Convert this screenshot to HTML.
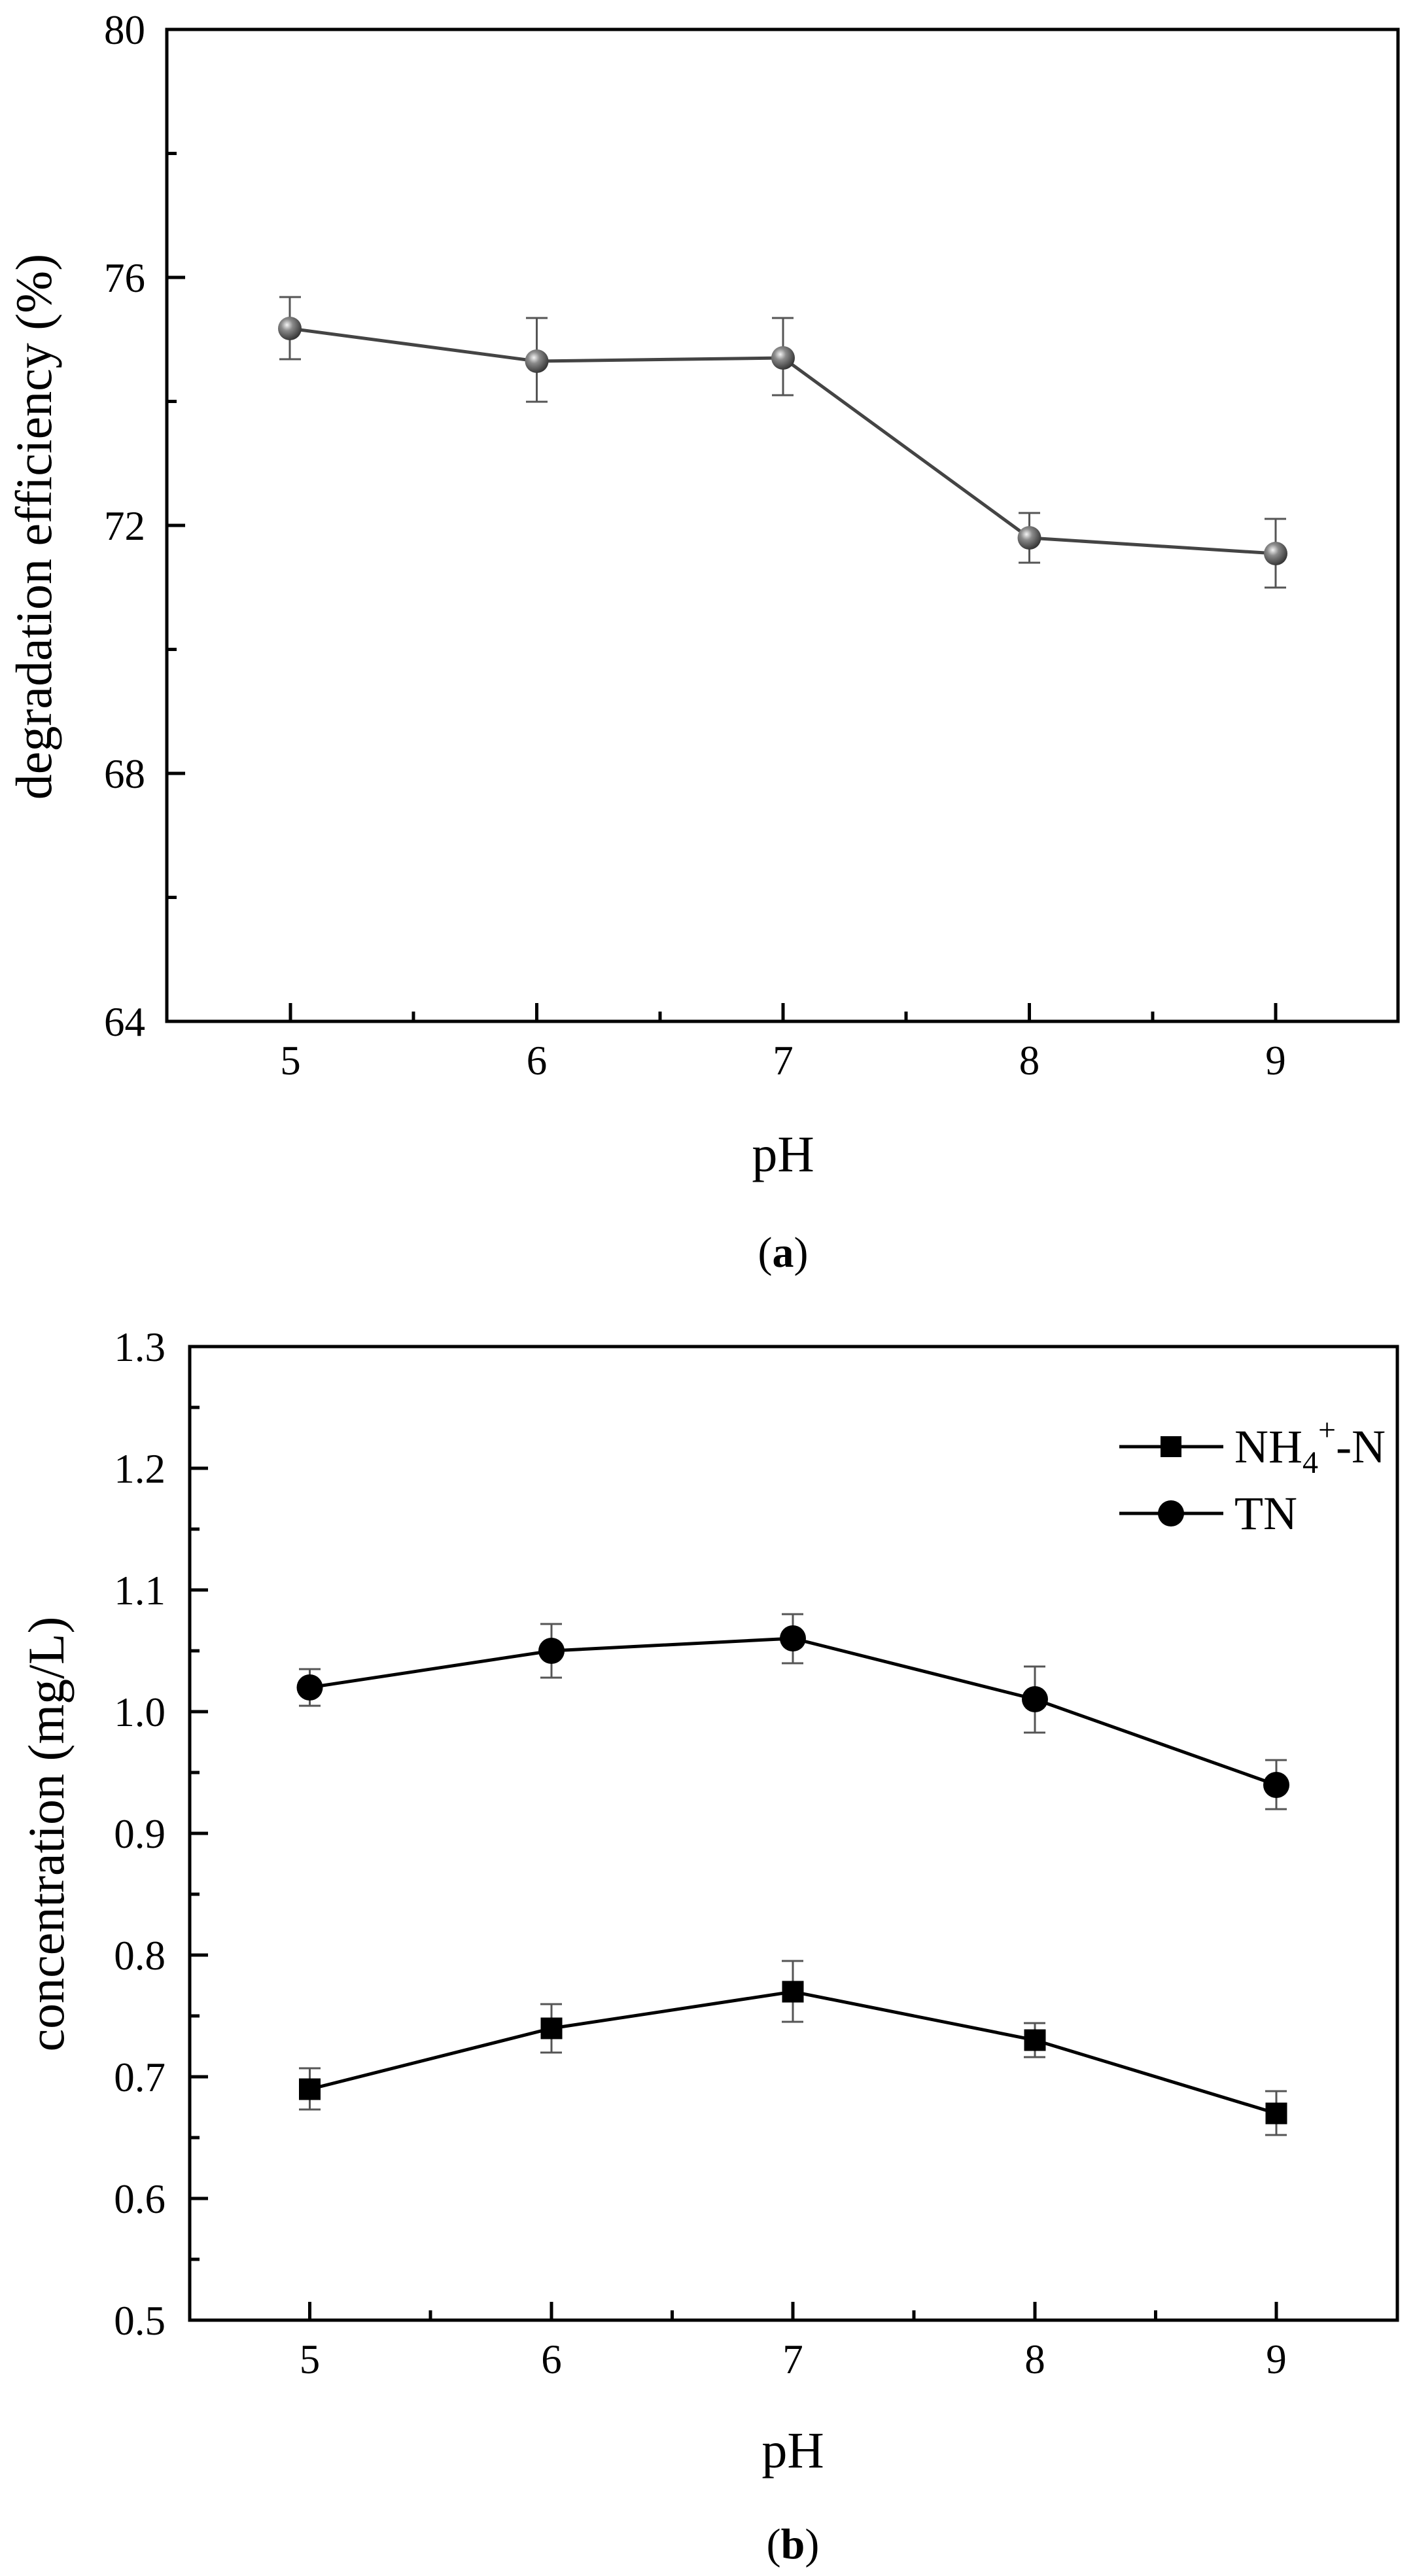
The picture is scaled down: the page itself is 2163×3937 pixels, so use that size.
<!DOCTYPE html>
<html><head><meta charset="utf-8"><style>
html,body{margin:0;padding:0;background:#fff;}
svg{display:block;}
svg text{font-family:"Liberation Serif","Times New Roman",Times,serif;fill:#000;}
</style></head><body>
<svg width="2163" height="3937" viewBox="0 0 2163 3937" xmlns="http://www.w3.org/2000/svg" font-family="'Liberation Serif', 'Times New Roman', serif">
<defs>
<radialGradient id="sph" cx="0.38" cy="0.35" r="0.7">
<stop offset="0" stop-color="#f4f4f4"/><stop offset="0.35" stop-color="#8a8a8a"/><stop offset="1" stop-color="#2e2e2e"/>
</radialGradient>
</defs>
<g stroke="#000" stroke-width="5" fill="none">
<rect x="255" y="45" width="1882" height="1516"/>
<path d="M444 1561v-28M820.5 1561v-28M1197 1561v-28M1573.5 1561v-28M1950 1561v-28"/>
<path d="M632 1561v-15M1009 1561v-15M1385 1561v-15M1762 1561v-15"/>
<path d="M255 424h28M255 803h28M255 1182h28"/>
<path d="M255 234.5h15M255 613.5h15M255 992.5h15M255 1371.5h15"/>
</g>
<g font-size="63" text-anchor="end">
<text x="222" y="67">80</text><text x="222" y="446">76</text><text x="222" y="825">72</text><text x="222" y="1204">68</text><text x="222" y="1583">64</text>
</g>
<g font-size="63" text-anchor="middle">
<text x="444" y="1642">5</text><text x="820.5" y="1642">6</text><text x="1197" y="1642">7</text><text x="1573.5" y="1642">8</text><text x="1950" y="1642">9</text>
</g>
<text font-size="78" text-anchor="middle" transform="translate(78,805) rotate(-90)">degradation efficiency (%)</text>
<text font-size="78" text-anchor="middle" x="1197" y="1790">pH</text>
<text font-size="66" text-anchor="middle" x="1197" y="1936">(<tspan font-weight="bold">a</tspan>)</text>
<g stroke="#555" stroke-width="3" fill="none">
<path d="M443 454v95M427 454h33M427 549h33"/>
<path d="M820.5 486v128M804 486h33M804 614h33"/>
<path d="M1197 486v118M1180 486h33M1180 604h33"/>
<path d="M1573.5 784v76M1557 784h33M1557 860h33"/>
<path d="M1950 793v105M1933 793h33M1933 898h33"/>
</g>
<polyline points="443,502 820.5,552 1197,547 1573.5,822 1950,846" fill="none" stroke="#444" stroke-width="5"/>
<g fill="url(#sph)">
<circle cx="443" cy="502" r="18"/><circle cx="820.5" cy="552" r="18"/><circle cx="1197" cy="547" r="18"/><circle cx="1573.5" cy="822" r="18"/><circle cx="1950" cy="846" r="18"/>
</g>
<g stroke="#000" stroke-width="5" fill="none">
<rect x="290" y="2058" width="1846" height="1488"/>
<path d="M473.5 3546v-28M843 3546v-28M1212 3546v-28M1582 3546v-28M1951 3546v-28"/>
<path d="M658 3546v-15M1027.5 3546v-15M1397 3546v-15M1766.5 3546v-15"/>
<path d="M290 2244h28M290 2430h28M290 2616h28M290 2802h28M290 2988h28M290 3174h28M290 3360h28"/>
<path d="M290 2151h15M290 2337h15M290 2523h15M290 2709h15M290 2895h15M290 3081h15M290 3267h15M290 3453h15"/>
</g>
<g font-size="63" text-anchor="end">
<text x="253" y="2080">1.3</text><text x="253" y="2266">1.2</text><text x="253" y="2452">1.1</text><text x="253" y="2638">1.0</text><text x="253" y="2824">0.9</text><text x="253" y="3010">0.8</text><text x="253" y="3196">0.7</text><text x="253" y="3382">0.6</text><text x="253" y="3568">0.5</text>
</g>
<g font-size="63" text-anchor="middle">
<text x="473.5" y="3627">5</text><text x="843" y="3627">6</text><text x="1212" y="3627">7</text><text x="1582" y="3627">8</text><text x="1951" y="3627">9</text>
</g>
<text font-size="78" text-anchor="middle" transform="translate(97,2803) rotate(-90)">concentration (mg/L)</text>
<text font-size="78" text-anchor="middle" x="1212" y="3771">pH</text>
<text font-size="66" text-anchor="middle" x="1212" y="3910">(<tspan font-weight="bold">b</tspan>)</text>
<g stroke="#555" stroke-width="3" fill="none">
<path d="M473.5 2551v56M457 2551h33M457 2607h33"/>
<path d="M843 2482v82M826 2482h33M826 2564h33"/>
<path d="M1212 2467v75M1195 2467h33M1195 2542h33"/>
<path d="M1582 2547v101M1565 2547h33M1565 2648h33"/>
<path d="M1951 2690v75M1934 2690h33M1934 2765h33"/>
<path d="M473.5 3161v63M457 3161h33M457 3224h33"/>
<path d="M843 3063v74M826 3063h33M826 3137h33"/>
<path d="M1212 2997v93M1195 2997h33M1195 3090h33"/>
<path d="M1582 3092v52M1565 3092h33M1565 3144h33"/>
<path d="M1951 3196v67M1934 3196h33M1934 3263h33"/>
</g>
<polyline points="473.5,2579 843,2523 1212,2504 1582,2597 1951,2728" fill="none" stroke="#000" stroke-width="5"/>
<polyline points="473.5,3193 843,3100 1212,3044 1582,3118 1951,3230" fill="none" stroke="#000" stroke-width="5"/>
<g fill="#000">
<circle cx="473.5" cy="2579" r="20"/><circle cx="843" cy="2523" r="20"/><circle cx="1212" cy="2504" r="20"/><circle cx="1582" cy="2597" r="20"/><circle cx="1951" cy="2728" r="20"/>
<rect x="457" y="3176.5" width="33" height="33"/><rect x="826.5" y="3083.5" width="33" height="33"/><rect x="1195.5" y="3027.5" width="33" height="33"/><rect x="1565.5" y="3101.5" width="33" height="33"/><rect x="1934.5" y="3213.5" width="33" height="33"/>
</g>
<path d="M1711 2211h159M1711 2313h159" stroke="#000" stroke-width="5"/>
<rect x="1774" y="2195" width="32" height="32" fill="#000"/>
<circle cx="1790" cy="2313" r="20" fill="#000"/>
<text font-size="72" x="1887" y="2235">NH<tspan font-size="48" dy="16">4</tspan><tspan font-size="48" dy="-50">+</tspan><tspan dy="34">-N</tspan></text>
<text font-size="72" x="1887" y="2337">TN</text>
</svg>
</body></html>
